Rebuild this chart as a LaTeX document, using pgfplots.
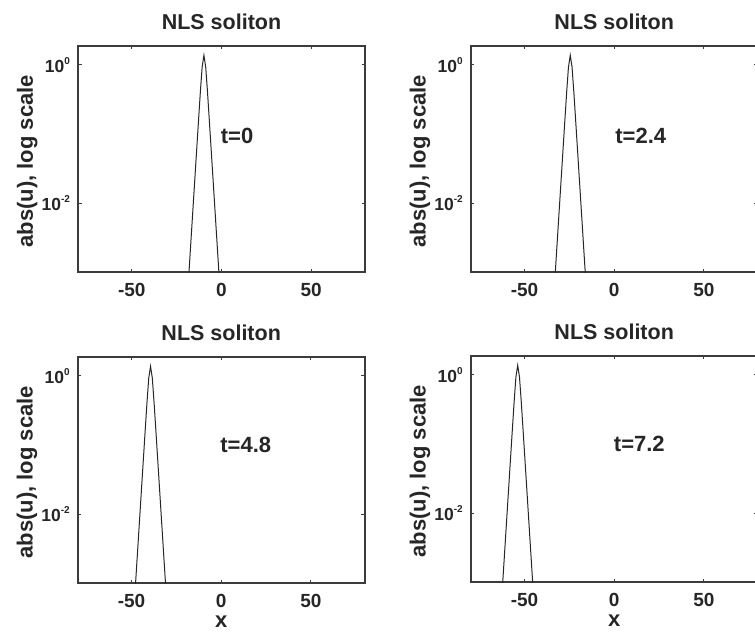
\documentclass[border=0pt]{standalone}
\usepackage{fontspec}
\setmainfont{Liberation Sans}
\usepackage{pgfplots}
\pgfplotsset{compat=1.18}
\definecolor{axgray}{RGB}{60,60,60}
\newcommand{\ex}[1]{\raisebox{7.5pt}{\fontsize{10}{10}\selectfont\bfseries #1}}
\pgfplotsset{
  every axis/.append style={
    scale only axis, width=287pt, height=226.5pt,
    anchor=north west,
    xmin=-80, xmax=80,
    ymin=1e-3, ymax=1.9,
    xtick={-50,0,50}, xticklabels={-50,0,50},
    ytick={0.01,1}, yticklabels={10\ex{-2},10\ex{0}},
    tick align=inside, major tick length=3.5pt,
    tick style={axgray, line width=1pt},
    axis line style={axgray, line width=1.7pt},
    tick label style={font=\fontsize{19}{21}\selectfont\bfseries, text=black!85},
    xticklabel style={yshift=-7.5pt},
    yticklabel style={xshift=-4.5pt, font=\fontsize{17.5}{20}\selectfont\bfseries},
    title={NLS soliton},
    title style={font=\fontsize{21.5}{24}\selectfont\bfseries, text=black!85, at={(axis description cs:0.5,1)}, anchor=base, yshift=10pt, inner sep=0pt},
    ylabel={abs(u), log scale},
    ylabel style={font=\fontsize{22}{24}\selectfont\bfseries, text=black!85, at={(axis description cs:-0.14,0.49)}, anchor=south, inner sep=0pt},
    xlabel style={font=\fontsize{22}{24}\selectfont\bfseries, text=black!85, at={(axis description cs:0.5,0)}, anchor=base, yshift=-44pt, inner sep=0pt},
  },
}
\begin{document}
\begin{tikzpicture}
% top left, t=0
\begin{semilogyaxis}[at={(78pt,589.3pt)}, yminorticks=false]
\addplot[black!85, line width=1pt, mark=none] coordinates {(-19.8,2.07e-4) (-17.8,1.38e-3) (-15.8,9.24e-3) (-13.8,0.0617) (-12.8,0.159) (-11.8,0.4035) (-10.8,0.929) (-9.8,1.38) (-8.8,0.929) (-7.8,0.4035) (-6.8,0.159) (-5.8,0.0617) (-3.8,9.24e-3) (-1.8,1.38e-3) (0.2,2.07e-4)};
\node[font=\fontsize{22}{24}\selectfont\bfseries, text=black!85] at (axis cs:8.7,0.094) {t=0};
\end{semilogyaxis}
% top right, t=2.4
\begin{semilogyaxis}[at={(470.7pt,589.3pt)}, yminorticks=false]
\addplot[black!85, line width=1pt, mark=none] coordinates {(-34.5,2.07e-4) (-32.5,1.38e-3) (-30.5,9.24e-3) (-28.5,0.0617) (-27.5,0.159) (-26.5,0.4035) (-25.5,0.929) (-24.5,1.38) (-23.5,0.929) (-22.5,0.4035) (-21.5,0.159) (-20.5,0.0617) (-18.5,9.24e-3) (-16.5,1.38e-3) (-14.5,2.07e-4)};
\node[font=\fontsize{22}{24}\selectfont\bfseries, text=black!85] at (axis cs:14.8,0.094) {t=2.4};
\end{semilogyaxis}
% bottom left, t=4.8
\begin{semilogyaxis}[at={(77.7pt,278.3pt)}, yminorticks=false, xlabel={x}]
\addplot[black!85, line width=1pt, mark=none] coordinates {(-49.4,2.07e-4) (-47.4,1.38e-3) (-45.4,9.24e-3) (-43.4,0.0617) (-42.4,0.159) (-41.4,0.4035) (-40.4,0.929) (-39.4,1.38) (-38.4,0.929) (-37.4,0.4035) (-36.4,0.159) (-35.4,0.0617) (-33.4,9.24e-3) (-31.4,1.38e-3) (-29.4,2.07e-4)};
\node[font=\fontsize{22}{24}\selectfont\bfseries, text=black!85] at (axis cs:13.7,0.1) {t=4.8};
\end{semilogyaxis}
% bottom right, t=7.2
\begin{semilogyaxis}[at={(470.7pt,279.3pt)}, yminorticks=false, xlabel={x}]
\addplot[black!85, line width=1pt, mark=none] coordinates {(-63.8,2.07e-4) (-61.8,1.38e-3) (-59.8,9.24e-3) (-57.8,0.0617) (-56.8,0.159) (-55.8,0.4035) (-54.8,0.929) (-53.8,1.38) (-52.8,0.929) (-51.8,0.4035) (-50.8,0.159) (-49.8,0.0617) (-47.8,9.24e-3) (-45.8,1.38e-3) (-43.8,2.07e-4)};
\node[font=\fontsize{22}{24}\selectfont\bfseries, text=black!85] at (axis cs:14,0.1) {t=7.2};
\end{semilogyaxis}
\pgfresetboundingbox
\useasboundingbox (0pt,0pt) rectangle (755pt,635pt);
\end{tikzpicture}
\end{document}
